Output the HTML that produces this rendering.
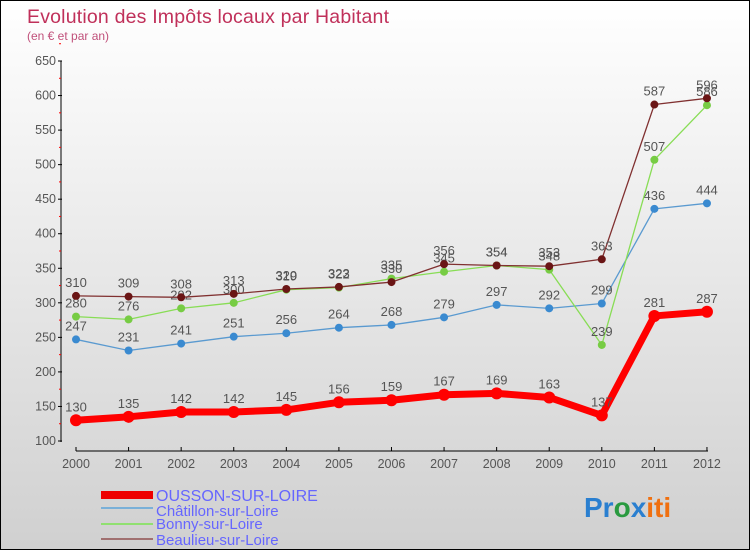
<!DOCTYPE html>
<html><head><meta charset="utf-8"><style>
body{margin:0;width:750px;height:550px;overflow:hidden;font-family:"Liberation Sans",sans-serif}
#c{position:absolute;left:0;top:0;width:748px;height:548px;border:1px solid #000;background:linear-gradient(#fff,#d0d0d0)}
</style></head><body>
<div id="c">
<svg id="s" width="748" height="548">
<text x="26" y="22" font-size="19.5" fill="#c0305a" textLength="362">Evolution des Impôts locaux par Habitant</text>
<text x="26" y="39" font-size="12" fill="#c0507a">(en € et par an)</text>
<g id="g"></g>
<g>
<rect x="100" y="490" width="52" height="8" fill="#e00"/>
<text x="155" y="500" font-size="16" fill="#66f">OUSSON-SUR-LOIRE</text>
<line x1="100" y1="507" x2="152" y2="507" stroke="#7ab0d8" stroke-width="2"/>
<text x="155" y="515" font-size="15" fill="#66f">Châtillon-sur-Loire</text>
<line x1="100" y1="523" x2="152" y2="523" stroke="#90e070" stroke-width="2"/>
<text x="155" y="528" font-size="15" fill="#66f">Bonny-sur-Loire</text>
<line x1="100" y1="538" x2="152" y2="538" stroke="#a07070" stroke-width="2"/>
<text x="155" y="544" font-size="15" fill="#66f">Beaulieu-sur-Loire</text>
</g>
<text x="583" y="516" font-size="28" font-weight="bold"><tspan fill="#2a7fd0">Pr</tspan><tspan fill="#2a9a40">o</tspan><tspan fill="#2a7fd0">x</tspan><tspan fill="#f07010">iti</tspan></text>
</svg></div>
<script>
const years=[2000,2001,2002,2003,2004,2005,2006,2007,2008,2009,2010,2011,2012];
const ticks=[100,150,200,250,300,350,400,450,500,550,600,650];
const ousson=[130,135,142,142,145,156,159,167,169,163,137,281,287];
const chatillon=[247,231,241,251,256,264,268,279,297,292,299,436,444];
const bonny=[280,276,292,300,319,322,335,345,354,348,239,507,586];
const beaulieu=[310,309,308,313,320,323,330,356,354,353,363,587,596];
const NS="http://www.w3.org/2000/svg",g=document.getElementById('g');
const X=i=>75+i*52.58, Y=v=>440-(v-100)*380/550;
function el(t,a,p){const e=document.createElementNS(NS,t);for(const k in a)e.setAttribute(k,a[k]);(p||g).appendChild(e);return e;}
let ax=el('line',{x1:60,y1:60,x2:60,y2:441,stroke:'#000'});


ticks.forEach(t=>{el('line',{x1:57,y1:Y(t),x2:61,y2:Y(t),stroke:'#000'});
 el('line',{x1:58,y1:Y(t+25),x2:60,y2:Y(t+25),stroke:'#f00'});
 let tx=el('text',{x:55,y:Y(t)+4,'font-size':12.5,'text-anchor':'end',fill:'#555'});tx.textContent=t;
 
 });
let xa=el('line',{x1:75,y1:450,x2:707,y2:450,stroke:'#000'});


years.forEach((y,i)=>{el('line',{x1:X(i),y1:446,x2:X(i),y2:450,stroke:'#000'});
 let tx=el('text',{x:X(i),y:467,'font-size':12.5,'text-anchor':'middle',fill:'#555'});tx.textContent=y;
 
 });
function series(d,col,dot,w,r,name){
 const pl=el('polyline',{points:d.map((v,i)=>X(i)+','+Y(v)).join(' '),fill:'none',stroke:col,'stroke-width':w,'stroke-linejoin':'round'});
 
 
 d.forEach((v,i)=>{const c=el('circle',{cx:X(i),cy:Y(v),r:r,fill:dot});
  
  
  const t=el('text',{x:X(i),y:Y(v)-9,'font-size':13,'text-anchor':'middle',fill:'#555'});t.textContent=v;
  
  });
}
series(chatillon,'#5a9ad0','#3a8ad0',1.3,4,'chatillon');
series(bonny,'#88dd55','#77cc44',1.3,4,'bonny');
series(beaulieu,'#803030','#6a1515',1.3,4,'beaulieu');
series(ousson,'#f00','#f00',7,6,'ousson');
</script></body></html>
